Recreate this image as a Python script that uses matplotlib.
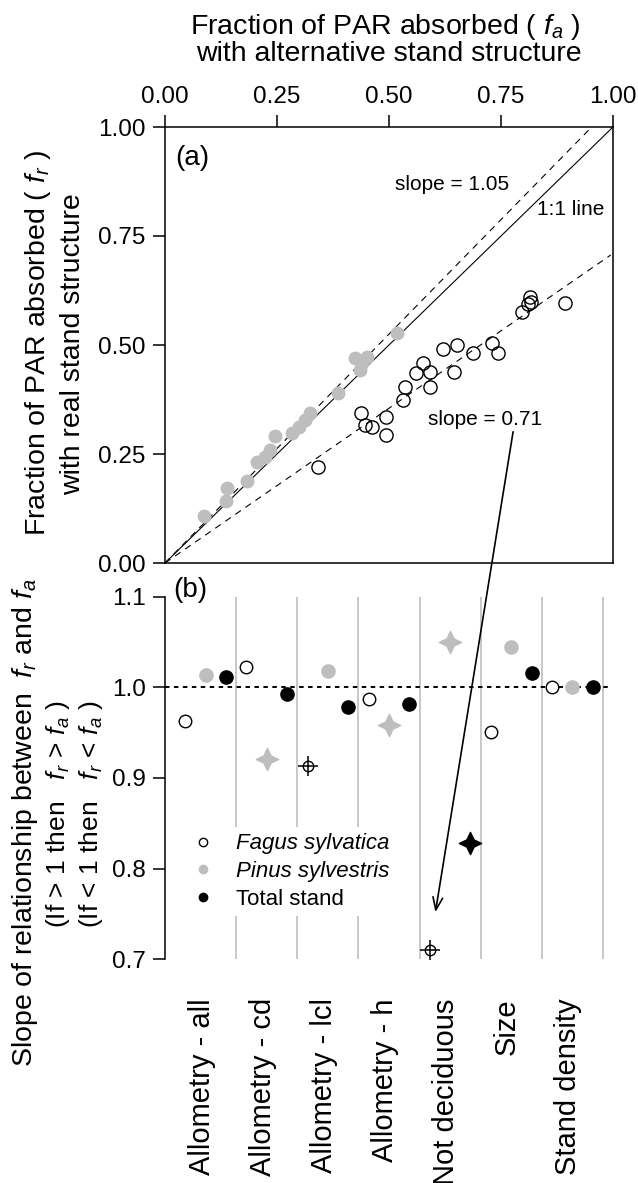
import matplotlib
matplotlib.use("Agg")
import matplotlib.pyplot as plt
from matplotlib.path import Path
from matplotlib.patches import ConnectionPatch
from matplotlib.lines import Line2D

plt.rcParams['font.family'] = ['Liberation Sans', 'DejaVu Sans']
plt.rcParams['mathtext.fontset'] = 'custom'
plt.rcParams['mathtext.rm'] = 'Liberation Sans'
plt.rcParams['mathtext.it'] = 'Liberation Sans:italic'
plt.rcParams['mathtext.bf'] = 'Liberation Sans:bold'

# ---- Panel (a): absorbed PAR, alternative vs real stand structure ----
fagus_fa = [0.341, 0.437, 0.446, 0.461, 0.493, 0.493, 0.532, 0.536, 0.560, 0.575,
            0.592, 0.592, 0.621, 0.644, 0.652, 0.688, 0.731, 0.744, 0.796, 0.811,
            0.815, 0.818, 0.893]
fagus_fr = [0.221, 0.343, 0.317, 0.311, 0.334, 0.294, 0.375, 0.404, 0.435, 0.459,
            0.439, 0.404, 0.490, 0.437, 0.500, 0.481, 0.505, 0.481, 0.575, 0.594,
            0.611, 0.599, 0.597]
pinus_fa = [0.086, 0.136, 0.138, 0.182, 0.205, 0.224, 0.235, 0.246, 0.283, 0.298,
            0.312, 0.324, 0.387, 0.424, 0.435, 0.439, 0.450, 0.517]
pinus_fr = [0.108, 0.143, 0.171, 0.188, 0.232, 0.242, 0.259, 0.291, 0.298, 0.313,
            0.328, 0.343, 0.389, 0.470, 0.443, 0.458, 0.473, 0.528]
slope_fagus = 0.71
slope_pinus = 1.05

# ---- Panel (b): slopes per scenario ----
scenarios = ['Allometry - all', 'Allometry - cd', 'Allometry - lcl',
             'Allometry - h', 'Not deciduous', 'Size', 'Stand density']
slopes_fagus = [0.963, 1.022, 0.9135, 0.987, 0.71, 0.951, 1.000]
slopes_pinus = [1.014, 0.9205, 1.018, 0.958, 1.05, 1.044, 1.000]
slopes_total = [1.011, 0.993, 0.978, 0.982, 0.828, 1.0155, 1.000]
# slopes significantly different from 1 get the star marker
signif_fagus = [False, False, True, False, True, False, False]
signif_pinus = [False, True, False, True, True, False, False]
signif_total = [False, False, False, False, True, False, False]

GREY = '#bebebe'
GRID = '#c8c8c8'

# four-pointed star marker
c = 0.707
r = 0.46
star = Path([(0, 1), (r * c, r * c), (1, 0), (r * c, -r * c), (0, -1),
             (-r * c, -r * c), (-1, 0), (-r * c, r * c), (0, 1)],
            [Path.MOVETO] + [Path.LINETO] * 7 + [Path.CLOSEPOLY])

W, H = 638, 1183
fig = plt.figure(figsize=(W / 100, H / 100), dpi=100)

L = 165 / W
Wd = 448 / W
ax1 = fig.add_axes([L, 1 - 563 / H, Wd, 436 / H])
ax2 = fig.add_axes([L, 1 - 959.3 / H, Wd, 362.6 / H])

tick_kw = dict(direction='out', length=9, width=1.1, labelsize=17.5, pad=5)

# ---------------- panel (a) ----------------
ax1.set_xlim(0, 1)
ax1.set_ylim(0, 1)
ax1.plot([0, 1], [0, 1], color='black', lw=0.8, zorder=2)
x_end = 0.995 / slope_pinus
ax1.plot([0, x_end], [0, slope_pinus * x_end],
         color='black', lw=0.8, ls=(0, (6, 5)), zorder=2)
ax1.plot([0, 0.995], [0, slope_fagus * 0.995], color='black', lw=0.8,
         ls=(0, (6, 5)), zorder=2)
ax1.plot(pinus_fa, pinus_fr, 'o', ms=9, color=GREY, mec=GREY, zorder=3)
ax1.plot(fagus_fa, fagus_fr, 'o', ms=9.5, mfc='none', mec='black', mew=1.0, zorder=4)

ax1.xaxis.tick_top()
ax1.set_xticks([0, 0.25, 0.5, 0.75, 1.0])
ax1.set_yticks([0, 0.25, 0.5, 0.75, 1.0])
ax1.xaxis.set_major_formatter(matplotlib.ticker.FormatStrFormatter('%.2f'))
ax1.yaxis.set_major_formatter(matplotlib.ticker.FormatStrFormatter('%.2f'))
ax1.tick_params(axis='both', **tick_kw)
for s in ax1.spines.values():
    s.set_linewidth(1.1)

ax1.text(0.022, 0.93, '(a)', fontsize=20, ha='left', va='center',
         transform=ax1.transAxes)
ax1.text(0.513, 0.867, 'slope = 1.05', fontsize=15, ha='left', va='center')
ax1.text(0.830, 0.810, '1:1 line', fontsize=15, ha='left', va='center')
ax1.text(0.587, 0.330, 'slope = 0.71', fontsize=15, ha='left', va='center')

# ---------------- panel (b) ----------------
ax2.set_xlim(0, 22)
ax2.set_ylim(0.7, 1.1)
for k in range(len(scenarios)):
    xs = 3 * k + 3.5
    ax2.plot([xs, xs], [0.7, 1.1], color=GRID, lw=1.4, zorder=1)
ax2.plot([0, 21.75], [1.0, 1.0], color='black', lw=1.4, ls=(0, (2.3, 2.3)), zorder=2)


def draw_point(x, y, style, significant):
    if style == 'fagus':
        if significant:
            ax2.plot(x, y, 'o', ms=7.5, mfc='white', mec='black', mew=1.0, zorder=5)
            ax2.plot(x, y, '+', ms=14, mec='black', mew=1.1, zorder=5)
        else:
            ax2.plot(x, y, 'o', ms=9, mfc='white', mec='black', mew=1.0, zorder=5)
    else:
        col = GREY if style == 'pinus' else 'black'
        if significant:
            ax2.plot(x, y, marker=star, ms=16, color=col, mec=col, ls='none', zorder=5)
        else:
            ax2.plot(x, y, 'o', ms=9.5, color=col, mec=col, zorder=5)


for k in range(len(scenarios)):
    draw_point(3 * k + 1, slopes_fagus[k], 'fagus', signif_fagus[k])
    draw_point(3 * k + 2, slopes_pinus[k], 'pinus', signif_pinus[k])
    draw_point(3 * k + 3, slopes_total[k], 'total', signif_total[k])

for side in ['top', 'right', 'bottom']:
    ax2.spines[side].set_visible(False)
ax2.spines['left'].set_linewidth(1.1)
ax2.set_yticks([0.7, 0.8, 0.9, 1.0, 1.1])
ax2.yaxis.set_major_formatter(matplotlib.ticker.FormatStrFormatter('%.1f'))
ax2.tick_params(axis='y', **tick_kw)
ax2.set_xticks([3 * k + 2 - 0.2 for k in range(len(scenarios))])
ax2.set_xticklabels(scenarios, rotation=90, va='top', ha='center', fontsize=21)
ax2.tick_params(axis='x', length=0, pad=28)

ax2.text(0.4, 1.107, '(b)', fontsize=20, ha='left', va='center', clip_on=False)

handles = [Line2D([], [], marker='o', ls='none', ms=6, mfc='white', mec='black', mew=1.0),
           Line2D([], [], marker='o', ls='none', ms=6, mfc=GREY, mec=GREY),
           Line2D([], [], marker='o', ls='none', ms=6, mfc='black', mec='black')]
leg = ax2.legend(handles, ['Fagus sylvatica', 'Pinus sylvestris', 'Total stand'],
                 loc='lower left', bbox_to_anchor=(0.02, 0.088), fontsize=16,
                 frameon=True, facecolor='white', edgecolor='none', framealpha=1,
                 handlelength=1.0, handletextpad=1.0, labelspacing=0.3,
                 borderpad=0.3, fancybox=False)
leg.set_zorder(6)
leg.get_texts()[0].set_style('italic')
leg.get_texts()[1].set_style('italic')

# arrow linking the fitted Fagus slope to its value in panel (b)
arrow = ConnectionPatch(xyA=(0.777, 0.301), coordsA=ax1.transData,
                        xyB=(13.28, 0.752), coordsB=ax2.transData,
                        arrowstyle='->,head_length=0.9,head_width=0.35',
                        mutation_scale=10, color='black', lw=1.2, zorder=10)
fig.add_artist(arrow)

# ---------------- axis titles ----------------
fig.text(385 / W, 1 - 27 / H, 'Fraction of PAR absorbed ( $f_a$ )', fontsize=20.5,
         ha='center', va='center')
fig.text(389 / W, 1 - 54 / H, 'with alternative stand structure', fontsize=20.5,
         ha='center', va='center')
fig.text(38 / W, 1 - 343 / H, 'Fraction of PAR absorbed ( $f_r$ )', fontsize=20.5,
         rotation=90, ha='center', va='center')
fig.text(73 / W, 1 - 344 / H, 'with real stand structure', fontsize=20.5,
         rotation=90, ha='center', va='center')
fig.text(25 / W, 1 - 823 / H, 'Slope of relationship between  $f_r$ and $f_a$',
         fontsize=20.5, rotation=90, ha='center', va='center')
fig.text(58 / W, 1 - 814 / H, '(If > 1 then   $f_r$ > $f_a$ )', fontsize=19,
         rotation=90, ha='center', va='center')
fig.text(91 / W, 1 - 814 / H, '(If < 1 then   $f_r$ < $f_a$ )', fontsize=19,
         rotation=90, ha='center', va='center')

fig.savefig('out.png', dpi=100)
